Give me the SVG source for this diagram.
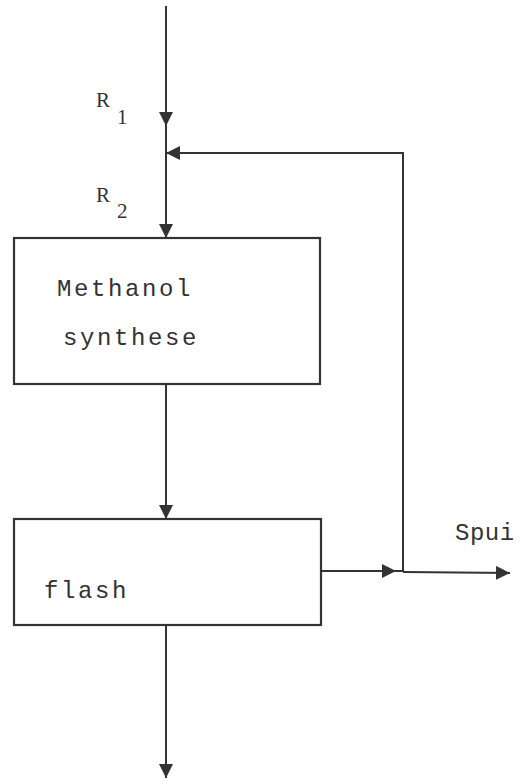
<svg xmlns="http://www.w3.org/2000/svg" width="520" height="784" viewBox="0 0 520 784">
<style>
.ln{fill:none;stroke:#333;stroke-width:2}
.box{fill:#fff;stroke:#333;stroke-width:2.2}
.t{font-family:"Liberation Mono","DejaVu Sans Mono",monospace;fill:#333}
.lbl{font-size:24px;letter-spacing:2.6px}
.r{font-family:"Liberation Serif","DejaVu Serif",serif;fill:#333;font-size:21px}
</style>
<defs>
<marker id="ah" viewBox="0 0 14 14" refX="14" refY="7" markerWidth="14" markerHeight="14" markerUnits="userSpaceOnUse" orient="auto">
<path d="M0,0 L14,7 L0,14 Z" fill="#333"/>
</marker>
</defs>
<rect width="520" height="784" fill="#fff"/>
<g id="connectors">
<line class="ln" x1="166" y1="6" x2="166" y2="126" marker-end="url(#ah)"/>
<line class="ln" x1="166" y1="124" x2="166" y2="238" marker-end="url(#ah)"/>
<polyline class="ln" points="321,571 403,571 403,153 166,153" marker-end="url(#ah)"/>
<line class="ln" x1="321" y1="571" x2="396" y2="571" marker-end="url(#ah)"/>
<line class="ln" x1="403" y1="572" x2="510" y2="573" marker-end="url(#ah)"/>
<line class="ln" x1="166" y1="384" x2="166" y2="519" marker-end="url(#ah)"/>
<line class="ln" x1="166" y1="625" x2="166" y2="778" marker-end="url(#ah)"/>
</g>
<g id="labels">
<text class="r" x="96" y="107">R</text><text class="r" x="117" y="124">1</text>
<text class="r" x="96" y="202">R</text><text class="r" x="117" y="218">2</text>
<text class="t" style="font-size:24px;letter-spacing:0.5px" x="455" y="540">Spui</text>
</g>
<g id="synthese">
<rect class="box" x="14" y="238" width="306" height="146"/>
<text class="t lbl" x="57" y="296">Methanol</text>
<text class="t lbl" x="63" y="345">synthese</text>
</g>
<g id="flash">
<rect class="box" x="14" y="519" width="307" height="106"/>
<text class="t lbl" x="44" y="598">flash</text>
</g>
</svg>
